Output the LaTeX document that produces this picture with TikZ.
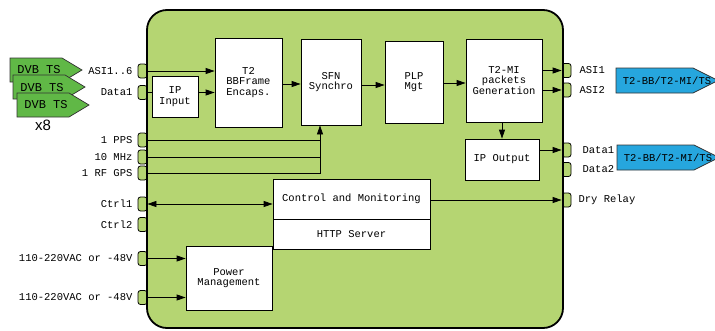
\documentclass[tikz,border=0pt]{standalone}
\usepackage{fontspec}
\setmainfont{Liberation Sans}
\newfontfamily\monof{Liberation Mono}
\usetikzlibrary{arrows.meta}
\definecolor{boxgreen}{RGB}{181,213,114}
\definecolor{tsgreen}{RGB}{96,184,70}
\definecolor{outblue}{RGB}{38,166,222}
\begin{document}
\begin{tikzpicture}[x=1pt,y=-1pt,
  font=\monof\fontsize{10.5}{10.5}\selectfont,
  blk/.style={draw, fill=white, line width=0.8pt, align=center, inner sep=0pt},
  lport/.style={draw, fill=boxgreen, rounded corners=2.5pt, minimum width=9pt, minimum height=14pt, inner sep=0pt, line width=0.8pt},
  lbl/.style={inner sep=0pt},
  arr/.style={line width=0.8pt, -{Triangle[length=9pt,width=6pt]}},
  darr/.style={line width=0.8pt, {Triangle[length=9pt,width=6pt]}-{Triangle[length=9pt,width=6pt]}},
  ln/.style={line width=0.8pt},
  tsshape/.style={draw=black!80, fill=tsgreen, line width=0.7pt},
  outshape/.style={draw=black!80, fill=outblue, line width=0.7pt},
  tstext/.style={inner sep=0pt, font=\monof\fontsize{12}{12}\selectfont},
]
\useasboundingbox (0,0) rectangle (715,330);
\clip (0,0) rectangle (715,330);

% input TS symbols
\draw[tsshape] (10,58) -- (62,58) -- (82,70) -- (62,82) -- (10,82) -- cycle;
\node[tstext] (ts1) at (39,70) {DVB TS};
\draw[tsshape] (13,75) -- (65,75) -- (85,87) -- (65,99) -- (13,99) -- cycle;
\node[tstext] (ts2) at (42,88) {DVB TS};
\draw[tsshape] (17,93) -- (69,93) -- (89,105) -- (69,117) -- (17,117) -- cycle;
\node[tstext] (ts3) at (46,105) {DVB TS};
\node[inner sep=0pt, font=\fontsize{15}{15}\selectfont] (x8) at (43,125) {x8};

% output symbols
\draw[outshape] (616,68) -- (693,68) -- (718,80.5) -- (693,93) -- (616,93) -- cycle;
\node[lbl] (out1) at (667,81) {T2-BB/T2-MI/TS};
\draw[outshape] (617,145) -- (694,145) -- (719,157.5) -- (694,170) -- (617,170) -- cycle;
\node[lbl] (out2) at (668,158) {T2-BB/T2-MI/TS};

% left ports
\node[lport] (pasi) at (142.5,71) {};
\node[lport] (pdata) at (142.5,92.5) {};
\node[lport] (ppps) at (142.5,140) {};
\node[lport] (pmhz) at (142.5,157) {};
\node[lport] (pgps) at (142.5,173) {};
\node[lport] (pctrla) at (142.5,204) {};
\node[lport] (pctrlb) at (142.5,224.5) {};
\node[lport] (ppwa) at (142.5,258.5) {};
\node[lport] (ppwb) at (142.5,297.5) {};
% right ports
\node[lport] (rasia) at (566.5,70.5) {};
\node[lport] (rasib) at (566.5,90) {};
\node[lport] (rdata) at (566.5,150) {};
\node[lport] (rdatb) at (566.5,169.5) {};
\node[lport] (rrelay) at (566.5,200) {};

% main box
\node[draw, fill=boxgreen, line width=1.8pt, rounded corners=20pt, minimum width=416pt, minimum height=318pt, inner sep=0pt] (main) at (355,169) {};

% labels
\node[lbl, anchor=east] (lasi) at ([xshift=-5pt]pasi.west) {ASI1..6};
\node[lbl, anchor=east] (ldata) at ([xshift=-5pt]pdata.west) {Data1};
\node[lbl, anchor=east] (lpps) at ([xshift=-5pt]ppps.west) {1 PPS};
\node[lbl, anchor=east] (lmhz) at ([xshift=-5pt]pmhz.west) {10 MHz};
\node[lbl, anchor=east] (lgps) at ([xshift=-5pt]pgps.west) {1 RF GPS};
\node[lbl, anchor=east] (lctrla) at ([xshift=-5pt]pctrla.west) {Ctrl1};
\node[lbl, anchor=east] (lctrlb) at ([xshift=-5pt]pctrlb.west) {Ctrl2};
\node[lbl, anchor=east] (lpwa) at ([xshift=-5pt]ppwa.west) {110-220VAC or -48V};
\node[lbl, anchor=east] (lpwb) at ([xshift=-5pt]ppwb.west) {110-220VAC or -48V};
\node[lbl, anchor=west] (rlasia) at ([xshift=8pt]rasia.east) {ASI1};
\node[lbl, anchor=west] (rlasib) at ([xshift=8pt]rasib.east) {ASI2};
\node[lbl, anchor=west] (rldata) at ([xshift=11pt]rdata.east) {Data1};
\node[lbl, anchor=west] (rldatb) at ([xshift=11pt]rdatb.east) {Data2};
\node[lbl, anchor=west] (rlrelay) at ([xshift=7pt]rrelay.east) {Dry Relay};

% blocks
\node[blk, minimum width=46pt, minimum height=41pt] (ipin) at (175,96.5) {IP\\Input};
\node[blk, minimum width=67pt, minimum height=89pt] (t2) at (248.5,82.5) {T2\\BBFrame\\Encaps.};
\node[blk, minimum width=60pt, minimum height=86pt] (sfn) at (331,82) {SFN\\Synchro};
\node[blk, minimum width=58pt, minimum height=82pt] (plp) at (414,82) {PLP\\Mgt};
\node[blk, minimum width=76pt, minimum height=83pt] (t2mi) at (504,80.5) {T2-MI\\packets\\Generation};
\node[blk, minimum width=74pt, minimum height=41pt] (ipout) at (502,159.5) {IP Output};
\node[blk, minimum width=157pt, minimum height=40pt] (cm) at (351.5,199) {Control and Monitoring};
\node[blk, minimum width=157pt, minimum height=30pt] (http) at (351.5,234) {HTTP Server};
\node[blk, minimum width=86pt, minimum height=64pt] (pwr) at (229,278) {Power\\Management};

% connectors
\draw[arr] (pasi.east) -- (t2.west |- pasi.east);
\draw[ln] (pdata.east) -- (ipin.west |- pdata.east);
\draw[arr] (ipin.east |- pdata.east) -- (t2.west |- pdata.east);
\draw[arr] (t2.east |- 0,84) -- (sfn.west |- 0,84);
\draw[arr] (sfn.east |- 0,85) -- (plp.west |- 0,85);
\draw[arr] (plp.east |- 0,83) -- (t2mi.west |- 0,83);
\draw[arr] (t2mi.east |- rasia.west) -- (rasia.west);
\draw[arr] (t2mi.east |- rasib.west) -- (rasib.west);
\draw[arr] (ipout.north |- t2mi.south) -- (ipout.north);
\draw[arr] (ipout.east |- rdata.west) -- (rdata.west);
\draw[arr] (cm.east |- rrelay.west) -- (rrelay.west);
\draw[darr] (pctrla.east) -- (cm.west |- pctrla.east);
\coordinate (jn) at (320,173);
\draw[ln] (ppps.east) -- (ppps.east -| jn);
\draw[ln] (pmhz.east) -- (pmhz.east -| jn);
\draw[arr] (pgps.east) -- (jn) -- (sfn.south -| jn);
\draw[arr] (ppwa.east) -- (pwr.west |- ppwa.east);
\draw[arr] (ppwb.east) -- (pwr.west |- ppwb.east);
\end{tikzpicture}
\end{document}
